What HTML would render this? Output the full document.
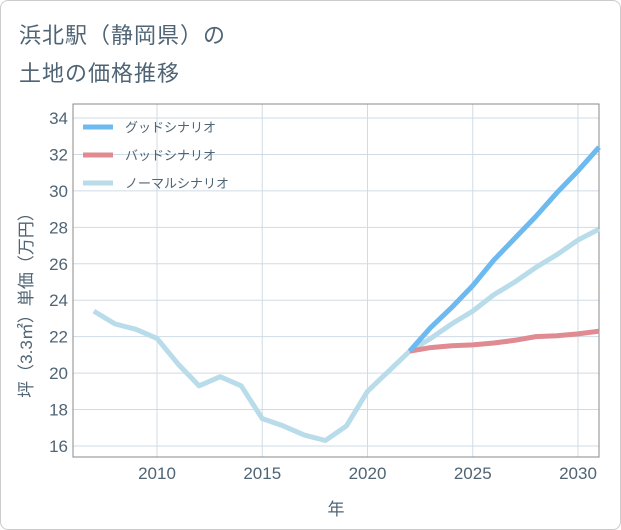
<!DOCTYPE html>
<html><head><meta charset="utf-8"><style>
body{margin:0;background:#fff;font-family:"Liberation Sans","Noto Sans CJK JP",sans-serif;}
#wrap{position:relative;width:619px;height:528px;border:1px solid #ccc;border-radius:8px;overflow:hidden;background:#fff;}
.t{position:absolute;left:18px;font-size:22px;color:#4f6474;letter-spacing:1px;}
</style></head><body>
<div id="wrap">
<div class="t" style="top:17px">浜北駅（静岡県）の</div>
<div class="t" style="top:55px">土地の価格推移</div>
<svg id="c" width="621" height="530" style="position:absolute;left:0;top:0"></svg>
</div>
<script>
const years=[2007,2008,2009,2010,2011,2012,2013,2014,2015,2016,2017,2018,2019,2020,2021,2022,2023,2024,2025,2026,2027,2028,2029,2030,2031];
const normal=[23.4,22.7,22.4,21.9,20.5,19.3,19.8,19.3,17.5,17.1,16.6,16.3,17.1,19.0,20.1,21.2,21.9,22.7,23.4,24.3,25.0,25.8,26.5,27.3,27.9];
const goodYears=[2022,2023,2024,2025,2026,2027,2028,2029,2030,2031];
const good=[21.2,22.5,23.6,24.8,26.2,27.4,28.6,29.9,31.1,32.4];
const bad=[21.2,21.4,21.5,21.55,21.65,21.8,22.0,22.05,22.15,22.3];
const xTicks=[2010,2015,2020,2025,2030];
const yTicks=[16,18,20,22,24,26,28,30,32,34];
const ns="http://www.w3.org/2000/svg",svg=document.getElementById('c');
const L=72,R=598,T=103,B=456;
const x=v=>156+(v-2010)*21.05, y=v=>117+(34-v)*18.22;
function mk(t,a,p){const e=document.createElementNS(ns,t);for(const k in a)e.setAttribute(k,a[k]);(p||svg).appendChild(e);return e;}
const bg=mk('rect',{x:L,y:T,width:R-L,height:B-T,fill:'#fff',stroke:'#888','stroke-width':1});


xTicks.forEach(v=>{const l=mk('line',{x1:x(v),x2:x(v),y1:T,y2:B,stroke:'#d0dbe6'});


const t=mk('text',{x:x(v),y:478,'text-anchor':'middle','font-size':17,fill:'#4f6474'});t.textContent=v;

});
yTicks.forEach(v=>{const l=mk('line',{x1:L,x2:R,y1:y(v),y2:y(v),stroke:'#d0dbe6'});


const t=mk('text',{x:67,y:y(v)+6,'text-anchor':'end','font-size':17,fill:'#4f6474'});t.textContent=v;

});
mk('rect',{x:L,y:T,width:R-L,height:B-T,fill:'none',stroke:'#888'});
function line(xs,vs,col,name){const d=xs.map((v,i)=>(i?'L':'M')+x(v)+','+y(vs[i])).join('');
const p=mk('path',{d:d,fill:'none',stroke:col,'stroke-width':5,'stroke-linejoin':'round'});

}
line(years,normal,'#b9dcea','normal-scenario-line');
line(goodYears,bad,'#e08a92','bad-scenario-line');
line(goodYears,good,'#6cbaf0','good-scenario-line');
const leg=[['グッドシナリオ','#6cbaf0'],['バッドシナリオ','#e08a92'],['ノーマルシナリオ','#b9dcea']];
leg.forEach((e,i)=>{const yy=126+i*28;
const l=mk('line',{x1:82,x2:112,y1:yy,y2:yy,stroke:e[1],'stroke-width':5});


const t=mk('text',{x:124,y:yy+5,'font-size':13,fill:'#4f6474'});t.textContent=e[0];

});
const xt=mk('text',{x:335,y:514,'text-anchor':'middle','font-size':17,fill:'#4f6474'});xt.textContent='年';


const yt=mk('text',{x:0,y:0,'text-anchor':'middle','font-size':17,fill:'#4f6474',transform:'translate(31,300) rotate(-90)'});yt.textContent='坪（3.3㎡）単価（万円）';


</script>
</body></html>
